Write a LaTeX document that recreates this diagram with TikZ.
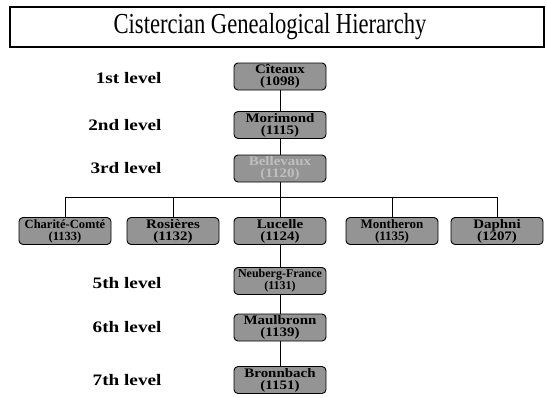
\documentclass[tikz,border=0pt]{standalone}
\usepackage{fontspec}
\setmainfont{Liberation Serif}
\newfontfamily\titlefont[FakeStretch=0.78]{Liberation Serif}
\newfontfamily\boxfont[FakeStretch=1.15]{Liberation Serif}
\newfontfamily\boxfontn{Liberation Serif}
\newfontfamily\lvlfont[FakeStretch=1.2]{Liberation Serif}
\begin{document}
\begin{tikzpicture}[x=1pt,y=-1pt,
  abbey/.style={draw=black, line width=0.9pt, rounded corners=4pt, fill=black!42,
    minimum width=92pt, minimum height=27pt, inner sep=0pt, align=center,
    font=\boxfont\bfseries\fontsize{13}{12}\selectfont},
  narrowtext/.style={font=\boxfontn\bfseries\fontsize{#1}{12}\selectfont},
  faded/.style={text=black!25},
  lvl/.style={anchor=east, font=\lvlfont\bfseries\fontsize{16}{18}\selectfont},
  link/.style={line width=0.9pt}]
\useasboundingbox (0,0) rectangle (547,397);
\node[draw, line width=1.1pt, minimum width=534pt, minimum height=40pt, inner sep=0pt] (titlebox) at (277,27) {};
\node[font=\titlefont\fontsize{29}{30}\selectfont] (title) at (270,27) {Cistercian Genealogical Hierarchy};

\node[lvl] (l1) at (165,78) {1st level};
\node[lvl] (l2) at (165,125) {2nd level};
\node[lvl] (l3) at (165,168) {3rd level};
\node[lvl] (l5) at (165,283) {5th level};
\node[lvl] (l6) at (165,327) {6th level};
\node[lvl] (l7) at (165,380) {7th level};

\node[abbey] (citeaux) at (280,76.5) {Cîteaux\\(1098)};
\node[abbey] (morimond) at (280,125) {Morimond\\(1115)};
\node[abbey, faded] (bellevaux) at (280,168.5) {Bellevaux\\(1120)};

\node[abbey, narrowtext=12.5] (charite) at (65,231) {Charité-Comté\\(1133)};
\node[abbey] (rosieres) at (173,231) {Rosières\\(1132)};
\node[abbey] (lucelle) at (280,231) {Lucelle\\(1124)};
\node[abbey, narrowtext=13] (montheron) at (392,231) {Montheron\\(1135)};
\node[abbey] (daphni) at (497,231) {Daphni\\(1207)};

\node[abbey, narrowtext=12] (neuberg) at (280,281) {Neuberg-France\\(1131)};
\node[abbey] (maulbronn) at (280,327.5) {Maulbronn\\(1139)};
\node[abbey] (bronnbach) at (280,380) {Bronnbach\\(1151)};

\coordinate (bus) at (280,197);
\draw[link] (citeaux) -- (morimond);
\draw[link] (morimond) -- (bellevaux);
\draw[link] (bellevaux) -- (bus);
\draw[link] (charite.north) |- (bus) -| (daphni.north);
\draw[link] (rosieres.north) |- (bus);
\draw[link] (montheron.north) |- (bus);
\draw[link] (bus) -- (lucelle);
\draw[link] (lucelle) -- (neuberg);
\draw[link] (neuberg) -- (maulbronn);
\draw[link] (maulbronn) -- (bronnbach);
\end{tikzpicture}
\end{document}
